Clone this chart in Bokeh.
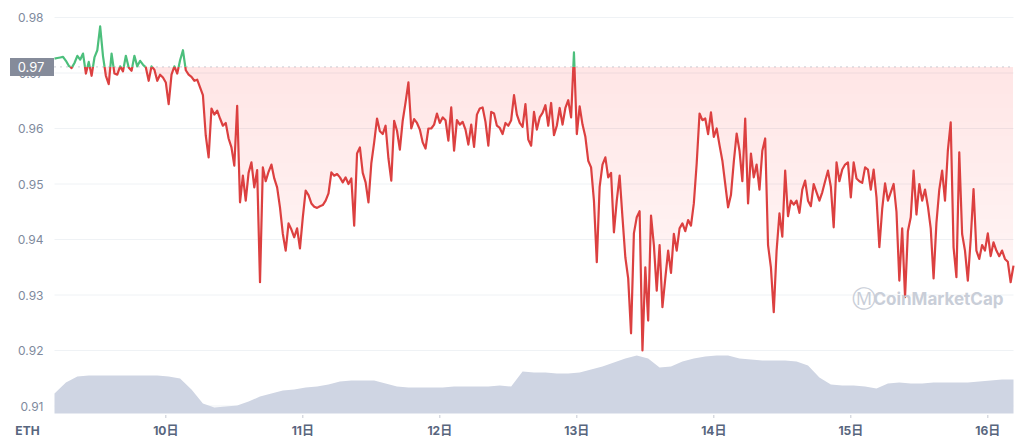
import numpy as np
import pandas as pd
from bokeh.plotting import figure
from bokeh.models import Range1d, Label
from bokeh.core.properties import value
from bokeh.embed import file_html
from bokeh.resources import INLINE

# ---------------- data ----------------
start_time = "2022-06-09 04:30"
end_time = "2022-06-16 04:30"
baseline = 0.9711          # opening price, drawn as dotted line
baseline_label = "0.97"
currency = "ETH"

price = [
    0.9726, 0.9727, 0.9728, 0.9729, 0.9722, 0.9713, 0.9709, 0.9718, 0.9731, 0.9724,
    0.9735, 0.9699, 0.9720, 0.9695, 0.9728, 0.9741, 0.9784, 0.9730, 0.9695, 0.9680,
    0.9735, 0.9699, 0.9697, 0.9712, 0.9703, 0.9731, 0.9710, 0.9704, 0.9731, 0.9712,
    0.9722, 0.9715, 0.9710, 0.9686, 0.9712, 0.9706, 0.9686, 0.9697, 0.9692, 0.9683,
    0.9644, 0.9697, 0.9712, 0.9699, 0.9723, 0.9741, 0.9705, 0.9697, 0.9693, 0.9686,
    0.9688, 0.9674, 0.9660, 0.9587, 0.9548, 0.9636, 0.9625, 0.9632, 0.9618, 0.9605,
    0.9610, 0.9582, 0.9566, 0.9533, 0.9641, 0.9467, 0.9515, 0.9470, 0.9520, 0.9539,
    0.9494, 0.9525, 0.9323, 0.9530, 0.9505, 0.9522, 0.9535, 0.9510, 0.9494, 0.9458,
    0.9410, 0.9380, 0.9429, 0.9418, 0.9404, 0.9420, 0.9384, 0.9440, 0.9488, 0.9480,
    0.9465, 0.9459, 0.9457, 0.9460, 0.9462, 0.9470, 0.9483, 0.9521, 0.9515, 0.9518,
    0.9512, 0.9503, 0.9512, 0.9500, 0.9510, 0.9425, 0.9555, 0.9566, 0.9520, 0.9503,
    0.9467, 0.9537, 0.9575, 0.9618, 0.9595, 0.9590, 0.9605, 0.9546, 0.9506, 0.9614,
    0.9596, 0.9562, 0.9614, 0.9647, 0.9683, 0.9600, 0.9617, 0.9610, 0.9598, 0.9575,
    0.9564, 0.9600, 0.9600, 0.9607, 0.9627, 0.9610, 0.9620, 0.9615, 0.9578, 0.9638,
    0.9560, 0.9615, 0.9607, 0.9612, 0.9598, 0.9571, 0.9607, 0.9567, 0.9625, 0.9636,
    0.9638, 0.9612, 0.9569, 0.9630, 0.9627, 0.9605, 0.9601, 0.9590, 0.9610, 0.9605,
    0.9615, 0.9660, 0.9625, 0.9610, 0.9603, 0.9644, 0.9580, 0.9569, 0.9630, 0.9598,
    0.9620, 0.9628, 0.9642, 0.9605, 0.9646, 0.9588, 0.9605, 0.9637, 0.9607, 0.9637,
    0.9651, 0.9620, 0.9737, 0.9590, 0.9640, 0.9607, 0.9585, 0.9542, 0.9530, 0.9470,
    0.9359, 0.9495, 0.9535, 0.9548, 0.9512, 0.9520, 0.9413, 0.9470, 0.9515, 0.9440,
    0.9368, 0.9330, 0.9231, 0.9411, 0.9440, 0.9451, 0.9200, 0.9350, 0.9254, 0.9443,
    0.9390, 0.9308, 0.9390, 0.9278, 0.9330, 0.9380, 0.9340, 0.9410, 0.9380, 0.9420,
    0.9429, 0.9415, 0.9435, 0.9425, 0.9465, 0.9537, 0.9627, 0.9615, 0.9618, 0.9590,
    0.9629, 0.9585, 0.9600, 0.9570, 0.9542, 0.9500, 0.9458, 0.9480, 0.9540, 0.9591,
    0.9560, 0.9505, 0.9618, 0.9465, 0.9555, 0.9512, 0.9535, 0.9490, 0.9560, 0.9582,
    0.9390, 0.9350, 0.9269, 0.9380, 0.9447, 0.9405, 0.9524, 0.9442, 0.9470, 0.9463,
    0.9470, 0.9448, 0.9490, 0.9506, 0.9470, 0.9460, 0.9500, 0.9485, 0.9470, 0.9485,
    0.9505, 0.9524, 0.9495, 0.9422, 0.9539, 0.9505, 0.9526, 0.9535, 0.9539, 0.9476,
    0.9539, 0.9510, 0.9505, 0.9502, 0.9530, 0.9526, 0.9490, 0.9526, 0.9476, 0.9386,
    0.9455, 0.9501, 0.9470, 0.9485, 0.9500, 0.9450, 0.9326, 0.9420, 0.9296, 0.9415,
    0.9440, 0.9524, 0.9445, 0.9500, 0.9470, 0.9490, 0.9460, 0.9420, 0.9330, 0.9430,
    0.9490, 0.9524, 0.9470, 0.9560, 0.9611, 0.9386, 0.9332, 0.9557, 0.9410, 0.9380,
    0.9326, 0.9400, 0.9491, 0.9380, 0.9365, 0.9390, 0.9380, 0.9411, 0.9370, 0.9395,
    0.9380, 0.9370, 0.9380, 0.9365, 0.9360, 0.9323, 0.9353,
]

# trading volume (relative units), every 2 hours
volume = [
    20, 31, 37, 38, 38, 38, 38, 38, 38, 38,
    37, 35, 24, 10, 6, 7, 8, 12, 17, 20,
    23, 24, 26, 27, 29, 32, 33, 33, 33, 30,
    27, 26, 26, 26, 26, 27, 27, 27, 27, 28,
    27, 42, 41, 41, 40, 40, 41, 44, 47, 51,
    55, 58, 55, 46, 47, 52, 55, 57, 58, 58,
    55, 54, 53, 53, 53, 52, 48, 36, 29, 28,
    28, 27, 25, 30, 31, 30, 30, 31, 31, 31,
    31, 32, 33, 34, 34,
]

day_ticks = ["2022-06-10", "2022-06-11", "2022-06-12", "2022-06-13",
             "2022-06-14", "2022-06-15", "2022-06-16"]
day_labels = ["10日", "11日", "12日", "13日", "14日", "15日", "16日"]
price_ticks = [0.91, 0.92, 0.93, 0.94, 0.95, 0.96, 0.97, 0.98]
price_labels = ["0.91", "0.92", "0.93", "0.94", "0.95", "0.96", "0.97", "0.98"]

# ---------------- layout (pixels) ----------------
W, H = 1024, 445
PL, PR, PT, PB = 54, 1013, 8, 413      # plot area inside the canvas
y_lo, y_hi = 0.908649, 0.981622        # price shown at PB / PT
vol_max = 405                          # volume shown at PT

def to_ms(idx):
    return (pd.DatetimeIndex(idx).asi8 // 10**6).astype(float)

t_price = to_ms(pd.date_range(start_time, end_time, periods=len(price)))
t_vol = to_ms(pd.date_range(start_time, end_time, periods=len(volume)))
tick_ms = to_ms(pd.to_datetime(day_ticks))
y = np.array(price, dtype=float)

x0, x1 = t_price[0], t_price[-1]
dx = (x1 - x0) / (PR - PL)             # ms per pixel
dy = (y_hi - y_lo) / (PB - PT)         # price per pixel
dv = vol_max / (PB - PT)

# insert baseline crossings so the line can switch colour exactly there
xs, ys = [t_price[0]], [y[0]]
for i in range(1, len(y)):
    a, b = y[i - 1] - baseline, y[i] - baseline
    if a * b < 0:
        f = a / (a - b)
        xs.append(t_price[i - 1] + f * (t_price[i] - t_price[i - 1]))
        ys.append(baseline)
    xs.append(t_price[i]); ys.append(y[i])
xs = np.array(xs); ys = np.array(ys)
green = np.where(ys >= baseline, ys, np.nan)
red = np.where(ys <= baseline, ys, np.nan)

RED = "#ea3943"
GRAY = "#808a9d"
DARK = "#58667e"
FONT = "Inter, 'Noto Sans CJK JP', sans-serif"

p = figure(width=W, height=H,
           x_range=Range1d(x0 - PL * dx, x1 + (W - PR) * dx),
           y_range=Range1d(y_lo - (H - PB) * dy, y_hi + PT * dy),
           x_axis_location=None, y_axis_location=None,
           output_backend="svg", toolbar_location=None, min_border=0)
p.outline_line_color = None
p.background_fill_color = "white"
p.border_fill_color = "white"
p.grid.visible = False

# horizontal grid lines
p.segment(x0=[x0] * len(price_ticks), x1=[x1] * len(price_ticks),
          y0=price_ticks, y1=price_ticks, line_color="#eff2f5", line_width=1)

# volume area on its own scale
p.extra_y_ranges = {"vol": Range1d(-(H - PB) * dv, vol_max + PT * dv)}
p.varea(x=t_vol, y1=0, y2=volume, fill_color="#cfd5e3", fill_alpha=1.0,
        y_range_name="vol")

# red gradient fill between line and baseline (strongest at the baseline)
below = np.minimum(ys, baseline)
for t in np.arange(y_lo, baseline, 0.0025):
    lo = np.maximum(below, t)
    p.varea(x=xs, y1=lo, y2=baseline, fill_color=RED, fill_alpha=0.0048)

# dotted baseline
p.segment(x0=[x0], x1=[x1], y0=[baseline], y1=[baseline],
          line_color="#9aa0ab", line_dash="1 5", line_width=1)

p.line(xs, red, line_color="#dc4040", line_width=2.2, line_join="round")
p.line(xs, green, line_color="#4cbf7c", line_width=2.2, line_join="round")

# y tick labels
p.text(x=[x0] * len(price_ticks), y=price_ticks, text=price_labels,
       x_offset=-11, text_align="right", text_baseline="middle",
       text_color=GRAY, text_font=value(FONT), text_font_size=value("12px"))

# x ticks and labels
p.segment(x0=tick_ms, x1=tick_ms, y0=[y_lo - 1.5 * dy] * len(tick_ms),
          y1=[y_lo - 4.5 * dy] * len(tick_ms), line_color="#c5cad3", line_width=1)
p.text(x=tick_ms, y=[y_lo - 17 * dy] * len(tick_ms), text=day_labels,
       text_align="center", text_baseline="middle", text_color=DARK,
       text_font=value(FONT), text_font_size=value("12px"),
       text_font_style="bold")
p.text(x=[x0 - 27 * dx], y=[y_lo - 17 * dy], text=[currency],
       text_align="center", text_baseline="middle", text_color=DARK,
       text_font=value(FONT), text_font_size=value("12px"),
       text_font_style="bold")

# current-price marker box on the left
p.rect(x=[x0 - 22.5 * dx], y=[baseline], width=44, height=18,
       width_units="screen", height_units="screen",
       fill_color="#858b9a", line_color=None)
p.text(x=[x0 - 23.5 * dx], y=[baseline], text=[baseline_label],
       text_align="center", text_baseline="middle", text_color="white",
       text_font=value(FONT), text_font_size=value("13px"))

# watermark
wm_y = y_lo + (PB - 298) * dy
p.add_layout(Label(x=x1, y=wm_y, text="CoinMarketCap", text_align="right",
                   text_baseline="middle", text_color="#c9ced8",
                   text_font=FONT, text_font_size="17px", text_font_style="bold",
                   x_offset=-10))
p.add_layout(Label(x=x1, y=wm_y, text="Ⓜ", text_align="center",
                   text_baseline="middle", text_color="#c9ced8",
                   text_font="DejaVu Sans", text_font_size="24px",
                   x_offset=-150))

open("out.html", "w").write(file_html(p, INLINE))
